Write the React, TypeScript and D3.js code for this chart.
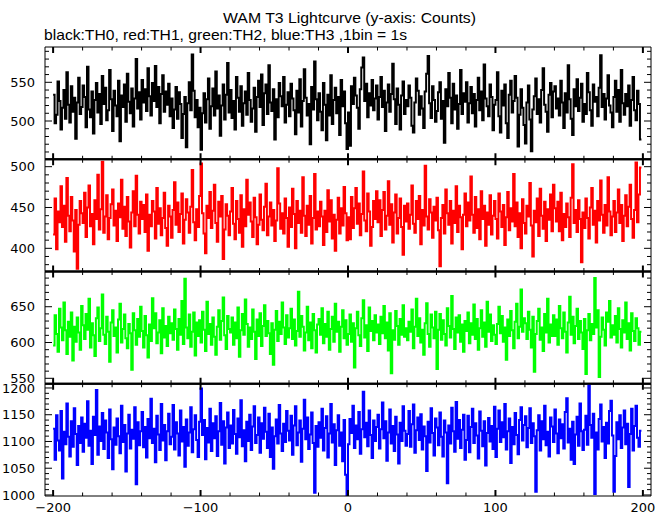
import React from 'react';
import * as d3 from 'd3';

// First bin start time (s); 1 bin = 1 s
const TIME_START = -200;

// TH0 (black) counts per 1 s bin
const th0 = [
  534, 497, 508, 551, 526, 489, 517, 540, 503, 563, 521, 498, 545, 512, 530, 477, 524, 556, 509, 518,
  546, 531, 492, 570, 515, 505, 538, 484, 527, 549, 511, 535, 496, 558, 522, 543, 501, 514, 566, 528,
  487, 539, 520, 506, 552, 474, 533, 518, 547, 499, 561, 525, 510, 542, 493, 529, 580, 516, 537, 502,
  553, 524, 541, 513, 568, 532, 507, 549, 526, 571, 518, 544, 497, 535, 559, 512, 538, 521, 548, 506,
  529, 491, 515, 544, 503, 537, 522, 478, 509, 531, 466, 523, 550, 514, 586, 539, 505, 527, 492, 517,
  463, 510, 536, 498, 528, 555, 490, 519, 542, 507, 564, 516, 533, 481, 520, 547, 502, 534, 575, 511,
  540, 504, 526, 489, 557, 530, 512, 545, 494, 523, 538, 508, 562, 527, 499, 516, 543, 486, 531, 552,
  518, 560, 495, 536, 547, 509, 572, 524, 513, 541, 476, 528, 505, 549, 532, 519, 557, 498, 521, 537,
  506, 548, 529, 514, 483, 539, 511, 554, 493, 526, 567, 530, 507, 522, 470, 544, 515, 577, 528, 501,
  536, 512, 488, 549, 521, 475, 534, 507, 559, 496, 527, 543, 510, 531, 482, 553, 519, 538, 497, 464,
  511, 468, 545, 522, 556, 533, 517, 490, 541, 569, 582, 526, 548, 505, 536, 520, 553, 514, 529, 546,
  502, 531, 557, 518, 539, 487, 524, 547, 512, 535, 574, 528, 496, 542, 521, 489, 533, 551, 509, 527,
  519, 546, 530, 494, 485, 524, 555, 539, 508, 532, 516, 491, 538, 561, 584, 523, 504, 545, 527, 499,
  513, 537, 550, 503, 526, 472, 541, 519, 562, 530, 497, 548, 515, 533, 490, 522, 566, 509, 536, 525,
  550, 498, 523, 544, 510, 535, 493, 527, 556, 514, 538, 501, 573, 529, 519, 506, 547, 531, 488, 521,
  527, 563, 506, 485, 539, 520, 547, 497, 478, 534, 552, 511, 526, 558, 530, 467, 508, 541, 517, 495,
  471, 524, 546, 502, 461, 515, 532, 555, 509, 528, 498, 540, 568, 521, 512, 486, 534, 549, 505, 538,
  545, 516, 529, 507, 552, 524, 491, 536, 511, 572, 528, 503, 482, 541, 519, 554, 513, 530, 548, 499,
  522, 509, 562, 537, 514, 494, 547, 525, 531, 506, 543, 585, 518, 535, 502, 529, 559, 520, 511, 492,
  531, 552, 512, 540, 499, 566, 523, 508, 535, 519, 546, 494, 527, 557, 514, 501, 539, 522, 476,
];

// TH1 (red)
const th1 = [
  417, 461, 399, 445, 432, 476, 426, 452, 408, 486, 440, 421, 463, 434, 396, 447, 375, 429, 458, 443,
  431, 468, 414, 450, 477, 427, 442, 405, 459, 436, 490, 423, 448, 506, 419, 439, 465, 411, 437, 454,
  472, 428, 446, 409, 455, 438, 484, 424, 451, 415, 463, 433, 401, 444, 470, 427, 489, 441, 418, 457,
  436, 453, 420, 466, 397, 441, 427, 458, 445, 412, 474, 430, 449, 416, 437, 468, 425, 403, 452, 439,
  413, 447, 481, 429, 456, 420, 442, 467, 406, 435, 460, 444, 419, 451, 496, 432, 410, 448, 426, 464,
  504, 443, 418, 394, 452, 437, 469, 425, 446, 478, 431, 408, 457, 439, 464, 387, 423, 454, 440, 416,
  445, 474, 430, 411, 458, 436, 419, 465, 402, 448, 427, 484, 441, 456, 433, 414, 462, 438, 405, 429,
  466, 435, 422, 451, 479, 416, 439, 456, 428, 447, 409, 434, 498, 455, 424, 443, 418, 461, 437, 402,
  450, 426, 473, 442, 400, 458, 431, 446, 419, 487, 440, 415, 452, 429, 464, 406, 437, 491, 423, 445,
  427, 457, 439, 404, 446, 420, 471, 433, 459, 412, 441, 397, 435, 462, 418, 449, 428, 475, 443, 410,
  438, 411, 463, 425, 449, 474, 430, 455, 416, 442, 494, 434, 421, 467, 445, 403, 426, 458, 436, 470,
  432, 459, 415, 447, 469, 423, 440, 482, 429, 454, 407, 444, 466, 418, 437, 461, 426, 392, 452, 433,
  455, 424, 441, 477, 430, 419, 458, 436, 464, 405, 447, 428, 501, 439, 423, 460, 444, 413, 451, 434,
  462, 422, 378, 437, 453, 418, 472, 443, 429, 458, 406, 446, 431, 476, 420, 452, 438, 399, 441, 467,
  427, 456, 434, 488, 441, 419, 463, 425, 448, 411, 470, 436, 452, 403, 444, 429, 465, 417, 440, 458,
  436, 412, 467, 445, 426, 453, 404, 438, 469, 422, 449, 433, 491, 427, 456, 414, 443, 400, 460, 431,
  418, 452, 439, 480, 428, 390, 446, 432, 461, 415, 473, 440, 424, 457, 409, 448, 435, 466, 421, 478,
  449, 433, 457, 421, 468, 410, 442, 426, 455, 438, 414, 462, 503, 431, 447, 420, 459, 436, 383, 444,
  425, 461, 437, 412, 450, 474, 429, 446, 407, 458, 434, 483, 441, 419, 453, 428, 487, 445, 416, 439,
  458, 420, 444, 472, 431, 453, 409, 440, 465, 427, 451, 478, 436, 413, 447, 505, 432, 466, 499,
];

// TH2 (green)
const th2 = [
  596, 638, 612, 587, 647, 621, 603, 656, 617, 584, 629, 608, 642, 575, 622, 601, 635, 614, 590, 651,
  624, 605, 640, 618, 661, 593, 627, 610, 581, 634, 649, 602, 620, 667, 611, 598, 636, 615, 573, 628,
  645, 609, 621, 586, 632, 654, 600, 619, 639, 606, 592, 626, 613, 562, 641, 617, 597, 633, 608, 650,
  616, 593, 637, 610, 579, 625, 602, 662, 620, 641, 599, 614, 631, 585, 648, 607, 623, 595, 636, 613,
  627, 604, 646, 619, 590, 633, 611, 658, 598, 689, 621, 606, 639, 594, 615, 642, 582, 628, 609, 631,
  600, 643, 618, 588, 657, 612, 626, 597, 635, 608, 583, 622, 645, 604, 630, 663, 610, 591, 637, 619,
  614, 635, 597, 628, 606, 649, 580, 617, 640, 611, 660, 626, 594, 621, 605, 646, 615, 577, 632, 609,
  641, 595, 623, 652, 609, 630, 613, 584, 627, 569, 618, 644, 602, 629, 612, 656, 621, 598, 638, 607,
  620, 647, 605, 632, 596, 616, 671, 608, 637, 622, 589, 614, 650, 603, 628, 592, 640, 617, 586, 625,
  633, 611, 648, 599, 626, 608, 643, 590, 619, 636, 601, 654, 615, 629, 587, 622, 645, 606, 631, 597,
  612, 639, 601, 627, 565, 620, 643, 610, 595, 634, 659, 607, 624, 588, 649, 616, 630, 603, 638, 614,
  625, 598, 636, 613, 651, 606, 628, 589, 641, 557, 617, 604, 644, 623, 597, 633, 611, 652, 608, 620,
  603, 629, 615, 646, 592, 622, 661, 609, 634, 600, 618, 583, 627, 655, 612, 594, 639, 621, 606, 643,
  563, 618, 640, 604, 631, 612, 596, 648, 623, 607, 665, 619, 591, 635, 614, 638, 601, 625, 587, 630,
  616, 642, 599, 627, 611, 653, 605, 633, 590, 620, 645, 608, 628, 594, 657, 615, 639, 602, 624, 611,
  598, 626, 650, 613, 637, 601, 621, 576, 632, 609, 644, 617, 592, 629, 654, 606, 622, 674, 615, 634,
  627, 605, 643, 618, 593, 636, 559, 612, 630, 647, 604, 621, 588, 640, 614, 661, 600, 625, 609, 638,
  609, 632, 597, 651, 620, 606, 642, 615, 586, 628, 664, 611, 636, 599, 623, 647, 605, 630, 614, 591,
  633, 556, 617, 640, 603, 626, 612, 690, 621, 645, 552, 608, 635, 618, 596, 642, 629, 658, 607, 624,
  611, 637, 600, 648, 619, 593, 631, 614, 656, 605, 627, 589, 641, 616, 602, 634, 620, 597, 615,
];

// TH3 (blue)
const th3 = [
  1124, 1066, 1149, 1102, 1083, 1157, 1031, 1118, 1095, 1171, 1109, 1072, 1138, 1090, 1162, 1114, 1056, 1129, 1097, 1145,
  1081, 1133, 1107, 1175, 1092, 1120, 1058, 1146, 1112, 1196, 1075, 1128, 1101, 1153, 1086, 1139, 1117, 1069, 1160, 1104,
  1048, 1126, 1094, 1143, 1110, 1078, 1167, 1099, 1131, 1044, 1115, 1150, 1087, 1122, 1105, 1164, 1020, 1136, 1093, 1119,
  1155, 1089, 1127, 1070, 1142, 1106, 1180, 1097, 1124, 1061, 1148, 1113, 1084, 1170, 1102, 1131, 1065, 1119, 1152, 1095,
  1109, 1168, 1085, 1136, 1115, 1074, 1158, 1100, 1127, 1053, 1141, 1092, 1117, 1164, 1080, 1123, 1149, 1103, 1071, 1137,
  1199, 1112, 1140, 1067, 1125, 1098, 1161, 1082, 1134, 1106, 1147, 1073, 1119, 1172, 1094, 1138, 1059, 1126, 1154, 1088,
  1130, 1096, 1159, 1114, 1077, 1143, 1108, 1177, 1091, 1121, 1063, 1137, 1101, 1150, 1084, 1128, 1166, 1097, 1112, 1145,
  1079, 1134, 1105, 1163, 1118, 1088, 1152, 1071, 1126, 1049, 1110, 1141, 1096, 1168, 1115, 1082, 1133, 1099, 1157, 1120,
  1102, 1148, 1075, 1130, 1166, 1093, 1117, 1139, 1062, 1124, 1178, 1104, 1145, 1086, 1113, 1154, 1097, 1004, 1129, 1090,
  1136, 1107, 1161, 1083, 1125, 1147, 1070, 1115, 1170, 1098, 1132, 1056, 1121, 1149, 1092, 1117, 1063, 1140, 1038, 1000,
  1095, 1142, 1116, 1167, 1088, 1130, 1104, 1155, 1077, 1123, 1193, 1108, 1135, 1091, 1158, 1112, 1069, 1139, 1101, 1127,
  1150, 1087, 1123, 1173, 1106, 1138, 1064, 1117, 1160, 1096, 1129, 1082, 1146, 1113, 1059, 1135, 1101, 1166, 1120, 1092,
  1114, 1157, 1090, 1132, 1169, 1079, 1121, 1145, 1103, 1151, 1085, 1128, 1110, 1045, 1137, 1098, 1162, 1116, 1074, 1143,
  1126, 1093, 1154, 1109, 1072, 1139, 1117, 1022, 1130, 1096, 1163, 1119, 1081, 1174, 1105, 1140, 1088, 1122, 1150, 1066,
  1103, 1148, 1080, 1127, 1161, 1097, 1134, 1111, 1068, 1156, 1120, 1091, 1138, 1055, 1116, 1144, 1100, 1129, 1086, 1165,
  1071, 1124, 1158, 1099, 1136, 1108, 1170, 1085, 1119, 1143, 1060, 1127, 1095, 1153, 1112, 1076, 1140, 1164, 1102, 1131,
  1147, 1089, 1125, 1162, 1097, 1134, 1110, 1006, 1121, 1149, 1083, 1138, 1104, 1167, 1093, 1118, 1072, 1145, 1128, 1099,
  1160, 1115, 1078, 1141, 1106, 1132, 1087, 1155, 1181, 1098, 1124, 1066, 1137, 1058, 1113, 1146, 1092, 1171, 1119, 1084,
  1122, 1148, 1094, 1205, 1131, 1107, 1152, 1002, 1117, 1085, 1142, 1169, 1100, 1127, 1069, 1135, 1096, 1157, 1176, 1111,
  1006, 1073, 1136, 1104, 1149, 1088, 1126, 1158, 1095, 1133, 1015, 1114, 1161, 1083, 1129, 1167, 1107, 1090, 1120,
];

const SERIES = [th0, th1, th2, th3];
const COLORS = ['#000000', '#ff0000', '#00ff00', '#0000ff'];
const X_DOMAIN = [-205.5, 205.5];
const X_LABEL_TICKS = [-200, -100, 0, 100, 200];
const Y_DOMAINS = [
  [450.6, 595.6],
  [371.6, 509.1],
  [542.4, 699.2],
  [998.1, 1207.9],
];
const Y_LABEL_TICKS = [
  [500, 550],
  [400, 450, 500],
  [550, 600, 650],
  [1000, 1050, 1100, 1150, 1200],
];
const TITLE = 'WAM T3 Lightcurve (y-axis: Counts)';
const SUBTITLE = 'black:TH0, red:TH1, green:TH2, blue:TH3 ,1bin = 1s';

const W = 669;
const H = 515;
const LEFT = 45;
const RIGHT = 651;
const TOP = 47;
const BOTTOM = 496;

const fmt = (v: number) => (v < 0 ? '\u2212' + Math.abs(v) : String(v));

export default function App() {
  const x = d3.scaleLinear().domain(X_DOMAIN).range([LEFT, RIGHT]);
  const panelH = (BOTTOM - TOP) / SERIES.length;
  const xMinor = d3.range(-200, 201, 20);

  const panels = SERIES.map((vals, i) => {
    const y0 = TOP + i * panelH;
    const y1 = y0 + panelH;
    const y = d3.scaleLinear().domain(Y_DOMAINS[i]).range([y1, y0]);
    const pts: [number, number][] = vals.map((v, k) => [TIME_START + k, v]);
    pts.push([TIME_START + vals.length, vals[vals.length - 1]]);
    const line = d3
      .line<[number, number]>()
      .x((d) => x(d[0]))
      .y((d) => y(d[1]))
      .curve(d3.curveStepAfter);
    const [d0, d1] = Y_DOMAINS[i];
    const yMinor = d3.range(Math.ceil(d0 / 10) * 10, d1, 10);
    return (
      <g key={i}>
        <clipPath id={`clip${i}`}>
          <rect x={LEFT} y={y0} width={RIGHT - LEFT} height={panelH} />
        </clipPath>
        <path
          d={line(pts) || ''}
          fill="none"
          stroke={COLORS[i]}
          strokeWidth={2}
          clipPath={`url(#clip${i})`}
        />
        {xMinor.map((t) => {
          const major = t % 100 === 0;
          const len = major ? 6 : 3.5;
          const sw = major ? 2 : 1;
          const px = x(t);
          return (
            <g key={t} stroke="#000" strokeWidth={sw}>
              <line x1={px} x2={px} y1={y0} y2={y0 + len} />
              <line x1={px} x2={px} y1={y1} y2={y1 - len} />
            </g>
          );
        })}
        {yMinor.map((v) => {
          const major = v % 50 === 0;
          const len = major ? 7 : 4;
          const py = y(v);
          return (
            <g key={v} stroke="#000" strokeWidth={1}>
              <line x1={LEFT} x2={LEFT + len} y1={py} y2={py} />
              <line x1={RIGHT} x2={RIGHT - len} y1={py} y2={py} />
            </g>
          );
        })}
        {Y_LABEL_TICKS[i].map((v) => (
          <text
            key={v}
            x={35}
            y={y(v)}
            dy="0.36em"
            textAnchor="end"
            fontFamily="'DejaVu Sans', sans-serif"
            fontSize={13}
            fill="#000"
          >
            {fmt(v)}
          </text>
        ))}
        <line x1={LEFT} x2={LEFT} y1={y0} y2={y1} stroke="#000" strokeWidth={1} />
        <line x1={RIGHT} x2={RIGHT} y1={y0} y2={y1} stroke="#000" strokeWidth={1} />
        <line x1={LEFT} x2={RIGHT} y1={y0} y2={y0} stroke="#000" strokeWidth={i === 0 ? 1 : 2} />
        <line x1={LEFT} x2={RIGHT} y1={y1} y2={y1} stroke="#000" strokeWidth={i === SERIES.length - 1 ? 1 : 2} />
      </g>
    );
  });

  return (
    <svg
      width={W}
      height={H}
      viewBox={`0 0 ${W} ${H}`}
      style={{ position: 'absolute', left: 0, top: 0, background: '#fff' }}
    >
      <rect x={0} y={0} width={W} height={H} fill="#fff" />
      <text
        x={223}
        y={23}
        fontFamily="'Liberation Sans', Arial, sans-serif"
        fontSize={15}
        textLength={253}
        lengthAdjust="spacingAndGlyphs"
        fill="#000"
      >
        {TITLE}
      </text>
      <text
        x={44}
        y={40}
        fontFamily="'Liberation Sans', Arial, sans-serif"
        fontSize={15}
        textLength={363}
        lengthAdjust="spacingAndGlyphs"
        fill="#000"
      >
        {SUBTITLE}
      </text>
      {panels}
      {X_LABEL_TICKS.map((t) => (
        <text
          key={t}
          x={x(t)}
          y={512}
          textAnchor="middle"
          fontFamily="'DejaVu Sans', sans-serif"
          fontSize={13}
          fill="#000"
        >
          {fmt(t)}
        </text>
      ))}
    </svg>
  );
}
